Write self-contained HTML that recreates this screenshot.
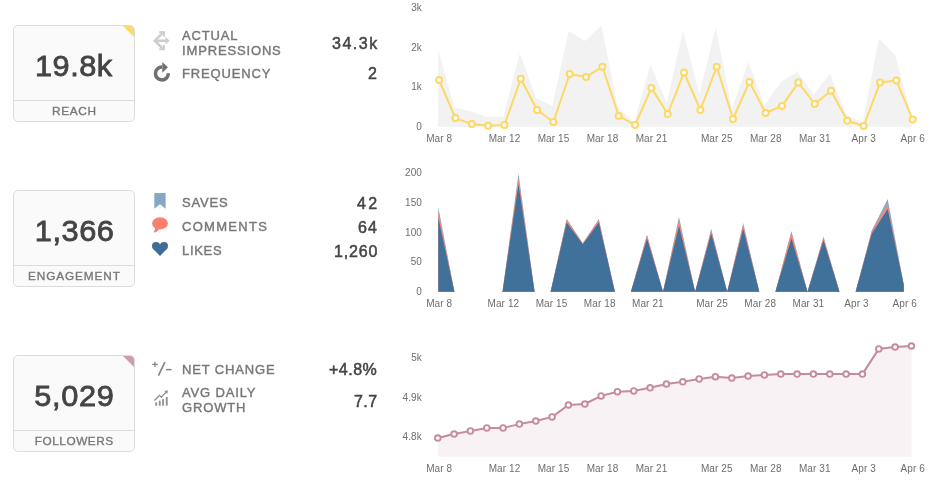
<!DOCTYPE html>
<html><head><meta charset="utf-8"><title>Dashboard</title>
<style>
html,body{margin:0;padding:0;background:#fff;}
body{width:938px;height:490px;position:relative;overflow:hidden;font-family:"Liberation Sans",sans-serif;}
.tile{position:absolute;left:13px;width:120px;height:95px;border:1px solid #dcdcdc;border-radius:5px;background:#fafafa;overflow:hidden;}
.tile .big{position:absolute;left:0;right:0;top:22px;text-align:center;font-size:29px;line-height:36px;color:#444;-webkit-text-stroke:0.8px #444;transform:scaleX(1.06);transform-origin:50% 50%;}
.tile .cap{position:absolute;left:0;right:0;top:74px;height:21px;border-top:1px solid #dcdcdc;text-align:center;font-size:11.8px;line-height:21px;color:#777;-webkit-text-stroke:0.35px #777;}
.tile .tri{position:absolute;right:0;top:0;width:0;height:0;border-top:11px solid #fdda68;border-left:11px solid transparent;}
.lab{position:absolute;left:182px;font-size:13px;line-height:15px;color:#777;letter-spacing:0.85px;white-space:nowrap;-webkit-text-stroke:0.4px #777;}
.val{position:absolute;right:561px;font-size:16px;line-height:20px;color:#444;letter-spacing:1.2px;margin-right:-1.2px;white-space:nowrap;text-align:right;-webkit-text-stroke:0.5px #444;}
.lab,.val,.tile{will-change:transform;}
</style></head><body>
<svg width="938" height="490" viewBox="0 0 938 490" style="position:absolute;left:0;top:0;will-change:transform" font-family="Liberation Sans, sans-serif" font-size="10" letter-spacing="0.1" fill="#6e6e6e">
<polygon points="438.1,126.7 438.1,49.8 454.4,107.1 470.8,111.4 487.1,116.9 503.4,116.9 519.8,53.0 536.1,98.5 552.4,105.7 568.7,30.9 585.1,40.9 601.4,25.4 617.7,106.4 634.1,122.5 650.4,64.5 666.7,103.2 683.0,30.9 699.4,93.7 715.7,27.5 732.0,108.3 748.4,61.7 764.7,104.9 781.0,81.7 797.4,72.0 813.7,94.6 830.0,73.7 846.3,115.2 862.7,122.0 879.0,38.4 895.3,55.6 911.7,117.0 911.7,126.7" fill="#f2f2f2"/>
<polyline points="439.1,80.0 455.4,118.1 471.8,124.1 488.1,125.8 504.4,125.0 520.8,78.8 537.1,110.0 553.4,122.0 569.7,74.0 586.1,76.9 602.4,66.8 618.7,115.9 635.1,125.0 651.4,87.9 667.7,114.0 684.0,72.6 700.4,110.0 716.7,66.8 733.0,119.0 749.4,81.9 765.7,113.0 782.0,105.9 798.4,82.6 814.7,104.0 831.0,90.8 847.3,120.8 863.7,126.0 880.0,82.6 896.3,80.6 912.7,119.6" fill="none" stroke="#fdd865" stroke-width="2" stroke-linejoin="round" stroke-linecap="round"/>
<circle cx="439.1" cy="80.0" r="3" fill="#fff" stroke="#fdd865" stroke-width="2"/>
<circle cx="455.4" cy="118.1" r="3" fill="#fff" stroke="#fdd865" stroke-width="2"/>
<circle cx="471.8" cy="124.1" r="3" fill="#fff" stroke="#fdd865" stroke-width="2"/>
<circle cx="488.1" cy="125.8" r="3" fill="#fff" stroke="#fdd865" stroke-width="2"/>
<circle cx="504.4" cy="125.0" r="3" fill="#fff" stroke="#fdd865" stroke-width="2"/>
<circle cx="520.8" cy="78.8" r="3" fill="#fff" stroke="#fdd865" stroke-width="2"/>
<circle cx="537.1" cy="110.0" r="3" fill="#fff" stroke="#fdd865" stroke-width="2"/>
<circle cx="553.4" cy="122.0" r="3" fill="#fff" stroke="#fdd865" stroke-width="2"/>
<circle cx="569.7" cy="74.0" r="3" fill="#fff" stroke="#fdd865" stroke-width="2"/>
<circle cx="586.1" cy="76.9" r="3" fill="#fff" stroke="#fdd865" stroke-width="2"/>
<circle cx="602.4" cy="66.8" r="3" fill="#fff" stroke="#fdd865" stroke-width="2"/>
<circle cx="618.7" cy="115.9" r="3" fill="#fff" stroke="#fdd865" stroke-width="2"/>
<circle cx="635.1" cy="125.0" r="3" fill="#fff" stroke="#fdd865" stroke-width="2"/>
<circle cx="651.4" cy="87.9" r="3" fill="#fff" stroke="#fdd865" stroke-width="2"/>
<circle cx="667.7" cy="114.0" r="3" fill="#fff" stroke="#fdd865" stroke-width="2"/>
<circle cx="684.0" cy="72.6" r="3" fill="#fff" stroke="#fdd865" stroke-width="2"/>
<circle cx="700.4" cy="110.0" r="3" fill="#fff" stroke="#fdd865" stroke-width="2"/>
<circle cx="716.7" cy="66.8" r="3" fill="#fff" stroke="#fdd865" stroke-width="2"/>
<circle cx="733.0" cy="119.0" r="3" fill="#fff" stroke="#fdd865" stroke-width="2"/>
<circle cx="749.4" cy="81.9" r="3" fill="#fff" stroke="#fdd865" stroke-width="2"/>
<circle cx="765.7" cy="113.0" r="3" fill="#fff" stroke="#fdd865" stroke-width="2"/>
<circle cx="782.0" cy="105.9" r="3" fill="#fff" stroke="#fdd865" stroke-width="2"/>
<circle cx="798.4" cy="82.6" r="3" fill="#fff" stroke="#fdd865" stroke-width="2"/>
<circle cx="814.7" cy="104.0" r="3" fill="#fff" stroke="#fdd865" stroke-width="2"/>
<circle cx="831.0" cy="90.8" r="3" fill="#fff" stroke="#fdd865" stroke-width="2"/>
<circle cx="847.3" cy="120.8" r="3" fill="#fff" stroke="#fdd865" stroke-width="2"/>
<circle cx="863.7" cy="126.0" r="3" fill="#fff" stroke="#fdd865" stroke-width="2"/>
<circle cx="880.0" cy="82.6" r="3" fill="#fff" stroke="#fdd865" stroke-width="2"/>
<circle cx="896.3" cy="80.6" r="3" fill="#fff" stroke="#fdd865" stroke-width="2"/>
<circle cx="912.7" cy="119.6" r="3" fill="#fff" stroke="#fdd865" stroke-width="2"/>
<text x="421.9" y="11.2" text-anchor="end">3k</text>
<text x="421.9" y="51.0" text-anchor="end">2k</text>
<text x="421.9" y="90.3" text-anchor="end">1k</text>
<text x="421.9" y="129.8" text-anchor="end">0</text>
<text x="439.2" y="142.2" text-anchor="middle">Mar 8</text>
<text x="504.5" y="142.2" text-anchor="middle">Mar 12</text>
<text x="553.5" y="142.2" text-anchor="middle">Mar 15</text>
<text x="602.5" y="142.2" text-anchor="middle">Mar 18</text>
<text x="651.5" y="142.2" text-anchor="middle">Mar 21</text>
<text x="716.8" y="142.2" text-anchor="middle">Mar 25</text>
<text x="765.8" y="142.2" text-anchor="middle">Mar 28</text>
<text x="814.8" y="142.2" text-anchor="middle">Mar 31</text>
<text x="863.8" y="142.2" text-anchor="middle">Apr 3</text>
<text x="912.8" y="142.2" text-anchor="middle">Apr 6</text>
<polygon points="438.3,291.8 438.3,207.0 454.4,291.8 470.4,291.8 486.5,291.8 502.5,291.8 518.5,173.5 534.6,291.8 550.6,291.8 566.7,218.7 582.8,243.2 598.8,218.9 614.9,291.8 630.9,291.8 647.0,234.8 663.0,291.8 679.0,216.9 695.1,291.8 711.2,228.8 727.2,291.8 743.2,222.9 759.3,291.8 775.4,291.8 791.4,231.1 807.5,291.8 823.5,236.6 839.5,291.8 855.6,291.8 871.7,230.6 887.7,199.0 903.8,284.5 903.8,291.8" fill="#8aabca"/>
<polygon points="438.3,291.8 438.3,210.7 454.4,291.8 470.4,291.8 486.5,291.8 502.5,291.8 518.5,177.8 534.6,291.8 550.6,291.8 566.7,219.8 582.8,243.5 598.8,220.0 614.9,291.8 630.9,291.8 647.0,235.2 663.0,291.8 679.0,220.0 695.1,291.8 711.2,230.7 727.2,291.8 743.2,224.7 759.3,291.8 775.4,291.8 791.4,232.4 807.5,291.8 823.5,237.8 839.5,291.8 855.6,291.8 871.7,231.8 887.7,204.6 903.8,284.8 903.8,291.8" fill="#f98674"/>
<polygon points="438.3,291.8 438.3,217.8 454.4,291.8 470.4,291.8 486.5,291.8 502.5,291.8 518.5,184.3 534.6,291.8 550.6,291.8 566.7,222.4 582.8,244.3 598.8,222.6 614.9,291.8 630.9,291.8 647.0,238.5 663.0,291.8 679.0,225.7 695.1,291.8 711.2,233.4 727.2,291.8 743.2,228.8 759.3,291.8 775.4,291.8 791.4,238.4 807.5,291.8 823.5,240.3 839.5,291.8 855.6,291.8 871.7,233.7 887.7,209.1 903.8,285.2 903.8,291.8" fill="#40719a"/>
<text x="422" y="175.9" text-anchor="end">200</text>
<text x="422" y="206.3" text-anchor="end">150</text>
<text x="422" y="236.0" text-anchor="end">100</text>
<text x="422" y="265.4" text-anchor="end">50</text>
<text x="422" y="294.8" text-anchor="end">0</text>
<text x="439.2" y="307.1" text-anchor="middle">Mar 8</text>
<text x="503.4" y="307.1" text-anchor="middle">Mar 12</text>
<text x="551.5" y="307.1" text-anchor="middle">Mar 15</text>
<text x="599.7" y="307.1" text-anchor="middle">Mar 18</text>
<text x="647.9" y="307.1" text-anchor="middle">Mar 21</text>
<text x="712.0" y="307.1" text-anchor="middle">Mar 25</text>
<text x="760.2" y="307.1" text-anchor="middle">Mar 28</text>
<text x="808.4" y="307.1" text-anchor="middle">Mar 31</text>
<text x="856.5" y="307.1" text-anchor="middle">Apr 3</text>
<text x="904.7" y="307.1" text-anchor="middle">Apr 6</text>
<polygon points="438.0,456.7 438.0,438.0 454.3,434.0 470.7,430.9 487.0,427.9 503.3,427.9 519.7,424.1 536.0,421.0 552.3,416.9 568.7,405.0 585.0,404.0 601.3,395.9 617.7,391.7 634.0,390.9 650.3,387.8 666.7,384.0 683.0,381.8 699.4,378.9 715.7,376.7 732.0,378.0 748.4,376.0 764.7,374.9 781.0,374.1 797.4,374.1 813.7,374.1 830.0,374.1 846.4,374.1 862.7,374.1 879.0,348.9 895.4,347.0 911.7,346.0 911.7,456.7" fill="#f9f2f5"/>
<polyline points="437.8,438.0 454.1,434.0 470.4,430.9 486.8,427.9 503.1,427.9 519.4,424.1 535.8,421.0 552.1,416.9 568.4,405.0 584.8,404.0 601.1,395.9 617.4,391.7 633.8,390.9 650.1,387.8 666.4,384.0 682.8,381.8 699.1,378.9 715.4,376.7 731.8,378.0 748.1,376.0 764.4,374.9 780.8,374.1 797.1,374.1 813.4,374.1 829.8,374.1 846.1,374.1 862.4,374.1 878.8,348.9 895.1,347.0 911.4,346.0" fill="none" stroke="#c48ba1" stroke-width="2" stroke-linejoin="round" stroke-linecap="round"/>
<circle cx="437.8" cy="438.0" r="2.8" fill="#fff" stroke="#c48ba1" stroke-width="1.9"/>
<circle cx="454.1" cy="434.0" r="2.8" fill="#fff" stroke="#c48ba1" stroke-width="1.9"/>
<circle cx="470.4" cy="430.9" r="2.8" fill="#fff" stroke="#c48ba1" stroke-width="1.9"/>
<circle cx="486.8" cy="427.9" r="2.8" fill="#fff" stroke="#c48ba1" stroke-width="1.9"/>
<circle cx="503.1" cy="427.9" r="2.8" fill="#fff" stroke="#c48ba1" stroke-width="1.9"/>
<circle cx="519.4" cy="424.1" r="2.8" fill="#fff" stroke="#c48ba1" stroke-width="1.9"/>
<circle cx="535.8" cy="421.0" r="2.8" fill="#fff" stroke="#c48ba1" stroke-width="1.9"/>
<circle cx="552.1" cy="416.9" r="2.8" fill="#fff" stroke="#c48ba1" stroke-width="1.9"/>
<circle cx="568.4" cy="405.0" r="2.8" fill="#fff" stroke="#c48ba1" stroke-width="1.9"/>
<circle cx="584.8" cy="404.0" r="2.8" fill="#fff" stroke="#c48ba1" stroke-width="1.9"/>
<circle cx="601.1" cy="395.9" r="2.8" fill="#fff" stroke="#c48ba1" stroke-width="1.9"/>
<circle cx="617.4" cy="391.7" r="2.8" fill="#fff" stroke="#c48ba1" stroke-width="1.9"/>
<circle cx="633.8" cy="390.9" r="2.8" fill="#fff" stroke="#c48ba1" stroke-width="1.9"/>
<circle cx="650.1" cy="387.8" r="2.8" fill="#fff" stroke="#c48ba1" stroke-width="1.9"/>
<circle cx="666.4" cy="384.0" r="2.8" fill="#fff" stroke="#c48ba1" stroke-width="1.9"/>
<circle cx="682.8" cy="381.8" r="2.8" fill="#fff" stroke="#c48ba1" stroke-width="1.9"/>
<circle cx="699.1" cy="378.9" r="2.8" fill="#fff" stroke="#c48ba1" stroke-width="1.9"/>
<circle cx="715.4" cy="376.7" r="2.8" fill="#fff" stroke="#c48ba1" stroke-width="1.9"/>
<circle cx="731.8" cy="378.0" r="2.8" fill="#fff" stroke="#c48ba1" stroke-width="1.9"/>
<circle cx="748.1" cy="376.0" r="2.8" fill="#fff" stroke="#c48ba1" stroke-width="1.9"/>
<circle cx="764.4" cy="374.9" r="2.8" fill="#fff" stroke="#c48ba1" stroke-width="1.9"/>
<circle cx="780.8" cy="374.1" r="2.8" fill="#fff" stroke="#c48ba1" stroke-width="1.9"/>
<circle cx="797.1" cy="374.1" r="2.8" fill="#fff" stroke="#c48ba1" stroke-width="1.9"/>
<circle cx="813.4" cy="374.1" r="2.8" fill="#fff" stroke="#c48ba1" stroke-width="1.9"/>
<circle cx="829.8" cy="374.1" r="2.8" fill="#fff" stroke="#c48ba1" stroke-width="1.9"/>
<circle cx="846.1" cy="374.1" r="2.8" fill="#fff" stroke="#c48ba1" stroke-width="1.9"/>
<circle cx="862.4" cy="374.1" r="2.8" fill="#fff" stroke="#c48ba1" stroke-width="1.9"/>
<circle cx="878.8" cy="348.9" r="2.8" fill="#fff" stroke="#c48ba1" stroke-width="1.9"/>
<circle cx="895.1" cy="347.0" r="2.8" fill="#fff" stroke="#c48ba1" stroke-width="1.9"/>
<circle cx="911.4" cy="346.0" r="2.8" fill="#fff" stroke="#c48ba1" stroke-width="1.9"/>
<text x="421.9" y="361.3" text-anchor="end">5k</text>
<text x="421.9" y="401.0" text-anchor="end">4.9k</text>
<text x="421.9" y="440.3" text-anchor="end">4.8k</text>
<text x="439.2" y="472.2" text-anchor="middle">Mar 8</text>
<text x="504.5" y="472.2" text-anchor="middle">Mar 12</text>
<text x="553.5" y="472.2" text-anchor="middle">Mar 15</text>
<text x="602.5" y="472.2" text-anchor="middle">Mar 18</text>
<text x="651.5" y="472.2" text-anchor="middle">Mar 21</text>
<text x="716.8" y="472.2" text-anchor="middle">Mar 25</text>
<text x="765.8" y="472.2" text-anchor="middle">Mar 28</text>
<text x="814.8" y="472.2" text-anchor="middle">Mar 31</text>
<text x="863.8" y="472.2" text-anchor="middle">Apr 3</text>
<text x="912.8" y="472.2" text-anchor="middle">Apr 6</text>

<g id="ic-impr" stroke="#cdcdcd" fill="none" stroke-width="2.6">
<path d="M163.4 32.2 L154.9 40.7 L163.4 49.3"/>
<path d="M156 40.7 H166.2"/>
<path d="M159.2 32.2 H163.9 V36.4" stroke-width="2"/>
<path d="M159.2 49.3 H163.9 V45.1" stroke-width="2"/>
<path d="M165.4 37.1 L169.8 40.7 L165.4 44.3Z" fill="#cdcdcd" stroke="none"/>
</g>
<g id="ic-freq">
<path d="M168.35 73.3 A6.45 6.45 0 1 1 162.2 67.1" fill="none" stroke="#707070" stroke-width="3.5"/>
<path d="M162.3 62 L167.9 67.3 L162.3 72.7Z" fill="#707070"/>
</g>
<path id="ic-save" d="M154.3 193.1 H165.6 V208.8 L159.95 204.2 L154.3 208.8Z" fill="#85a8c6"/>
<g id="ic-comm" fill="#fa7f6f"><ellipse cx="160" cy="223.4" rx="7.9" ry="6.2"/><path d="M155 227.5 Q155.6 230.8 153.3 232.6 Q157.2 232.4 159.2 229.6Z"/></g>
<g id="ic-like" fill="#3e6d97"><circle cx="156.05" cy="246.05" r="4.05"/><circle cx="163.95" cy="246.05" r="4.05"/><path d="M160 255.9 L153.15 248.88 L156 246 L160 244.6 L164 246 L166.85 248.88Z"/></g>
<g id="ic-net" stroke="#858585" fill="none">
<path d="M152.2 364.3 H157.8 M154.95 361.7 V366.9" stroke-width="1.3"/>
<path d="M158.4 375.6 L164.9 362.1" stroke-width="1.7"/>
<path d="M166 369.6 H171.6" stroke-width="1.5"/>
</g>
<g id="ic-grow" fill="#939393">
<rect x="155.2" y="402.3" width="1.9" height="3.4"/><rect x="158.8" y="400.7" width="1.9" height="5"/><rect x="162.1" y="399.1" width="1.9" height="6.6"/><rect x="165.8" y="397" width="1.9" height="8.7"/>
<path d="M154.4 400.5 L159.4 395.3 L161.3 397.1 L166.6 391.6" fill="none" stroke="#8a8a8a" stroke-width="1.3"/>
<path d="M164.3 391 L168 390.3 L167.2 394Z"/>
</g>

</svg>
<div class="tile" style="top:25px"><div class="tri"></div><div class="big" style="letter-spacing:0.45px;text-indent:-0.4px">19.8k</div><div class="cap" style="letter-spacing:0.65px;text-indent:0.65px">REACH</div></div>
<div class="tile" style="top:190px"><div class="big" style="letter-spacing:0.5px;text-indent:1.2px">1,366</div><div class="cap" style="letter-spacing:0.9px;text-indent:0.9px">ENGAGEMENT</div></div>
<div class="tile" style="top:355px"><div class="tri" style="border-top-color:#ce9cb0"></div><div class="big" style="letter-spacing:0.65px;text-indent:0.65px">5,029</div><div class="cap" style="letter-spacing:0.55px;text-indent:0.55px">FOLLOWERS</div></div>

<div class="lab" style="top:28px">ACTUAL<br>IMPRESSIONS</div><div class="val" style="top:34.3px;letter-spacing:1.5px;margin-right:-1.5px">34.3k</div>
<div class="lab" style="top:65.5px">FREQUENCY</div><div class="val" style="top:63.5px">2</div>

<div class="lab" style="top:194.7px">SAVES</div><div class="val" style="top:193.8px;letter-spacing:2.4px;margin-right:-2.4px">42</div>
<div class="lab" style="top:218.7px;letter-spacing:1.3px">COMMENTS</div><div class="val" style="top:217.8px">64</div>
<div class="lab" style="top:242.6px;letter-spacing:0.7px">LIKES</div><div class="val" style="top:241.8px;letter-spacing:0.85px;margin-right:-0.85px">1,260</div>

<div class="lab" style="top:361.7px">NET CHANGE</div><div class="val" style="top:360px;letter-spacing:0.5px;margin-right:-0.5px">+4.8%</div>
<div class="lab" style="top:385px">AVG DAILY<br>GROWTH</div><div class="val" style="top:391.7px;letter-spacing:0.4px;margin-right:-0.4px">7.7</div>
</body></html>
